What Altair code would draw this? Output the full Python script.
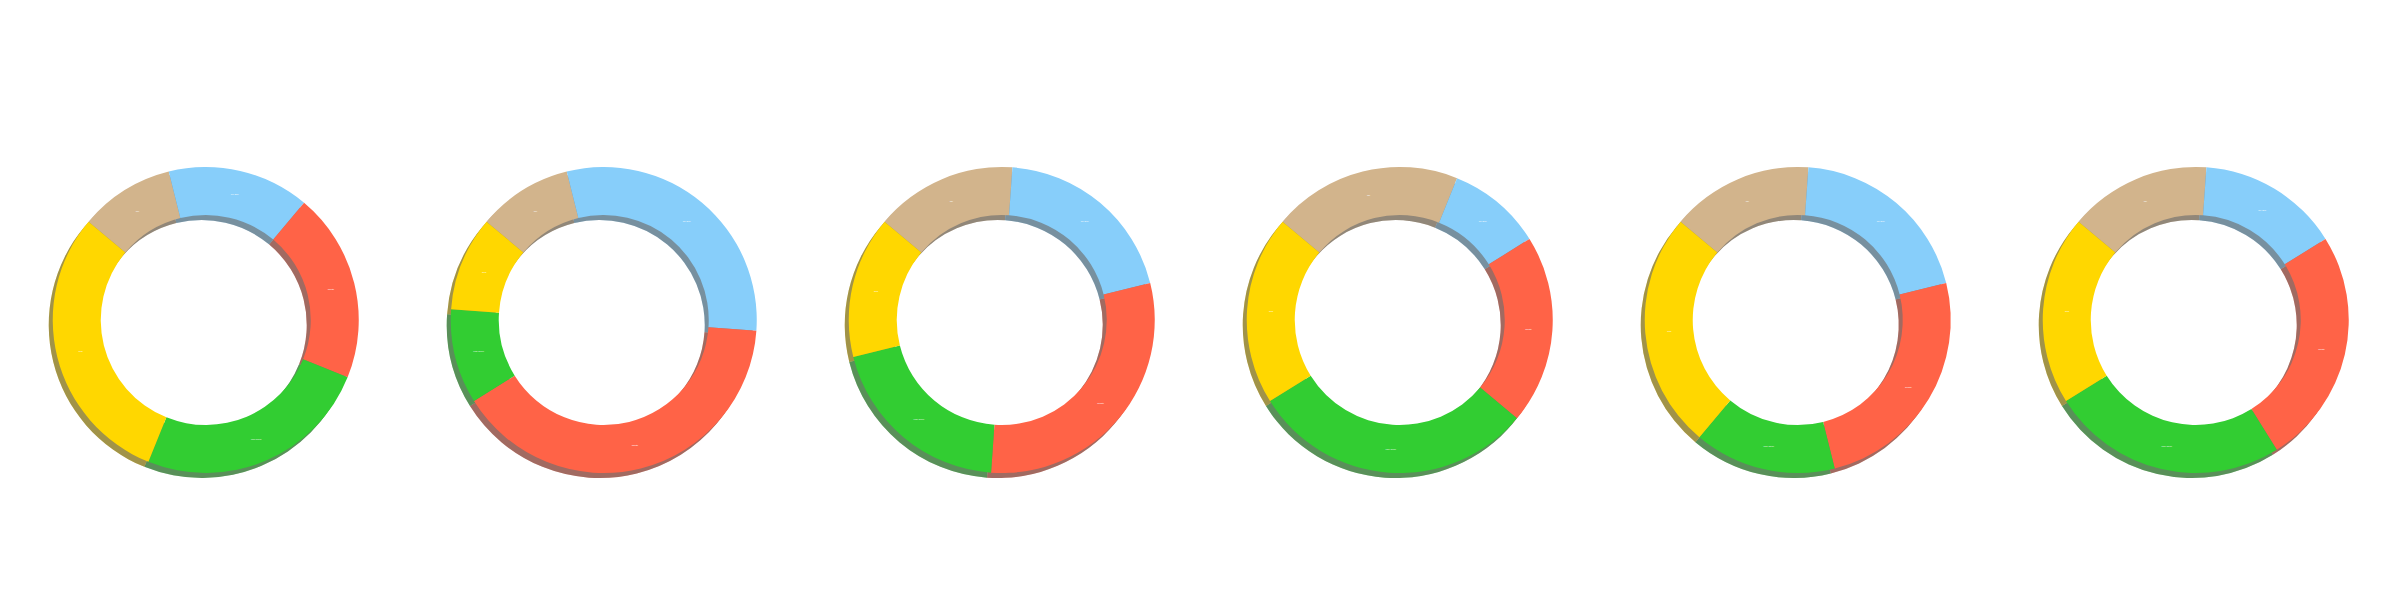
import altair as alt
import pandas as pd

categories = ["Tan", "Sky Blue", "Tomato", "Lime Green", "Gold"]
colors = ["#D2B48C", "#87CEFA", "#FF6347", "#32CD32", "#FFD700"]

values_1 = [10, 15, 20, 25, 30]
values_2 = [10, 30, 40, 10, 10]
values_3 = [15, 20, 30, 20, 15]
values_4 = [20, 10, 20, 30, 20]
values_5 = [15, 20, 25, 15, 25]
values_6 = [15, 15, 25, 25, 20]

all_values = [values_1, values_2, values_3, values_4, values_5, values_6]

START = -50 * 3.141592653589793 / 180
TWO_PI = 2 * 3.141592653589793

OUTER = 153
INNER = 105


def donut(vals):
    df = pd.DataFrame({
        "category": categories,
        "value": vals,
        "idx": list(range(len(categories))),
    })
    theta = alt.Theta("value:Q", stack=True,
                      scale=alt.Scale(range=[START, START + TWO_PI]))
    color = alt.Color("category:N", scale=alt.Scale(domain=categories, range=colors),
                      legend=None)
    order = alt.Order("idx:Q")
    base = alt.Chart(df)
    shadow_c = base.mark_arc(outerRadius=OUTER, innerRadius=INNER,
                             xOffset=-4, yOffset=5, opacity=0.7).encode(
        theta=theta, color=color, order=order)
    shadow_d = base.mark_arc(outerRadius=OUTER, innerRadius=INNER,
                             xOffset=-4, yOffset=5, color="#444444",
                             opacity=0.5).encode(theta=theta, order=order)
    main = base.mark_arc(outerRadius=OUTER, innerRadius=INNER).encode(
        theta=theta, color=color, order=order)
    text = base.mark_text(radius=(OUTER + INNER) / 2, fontSize=2,
                          color="white").encode(
        theta=theta, text="category:N", order=order)
    return alt.layer(shadow_c, shadow_d, main, text).properties(
        width=377.5, height=400)


chart = alt.hconcat(*[donut(v) for v in all_values], spacing=20).properties(
    padding={"left": 9, "top": 112, "right": 0, "bottom": 0}
).configure_view(stroke=None)

chart.save("out.html", embed_options={"renderer": "svg", "actions": False})
